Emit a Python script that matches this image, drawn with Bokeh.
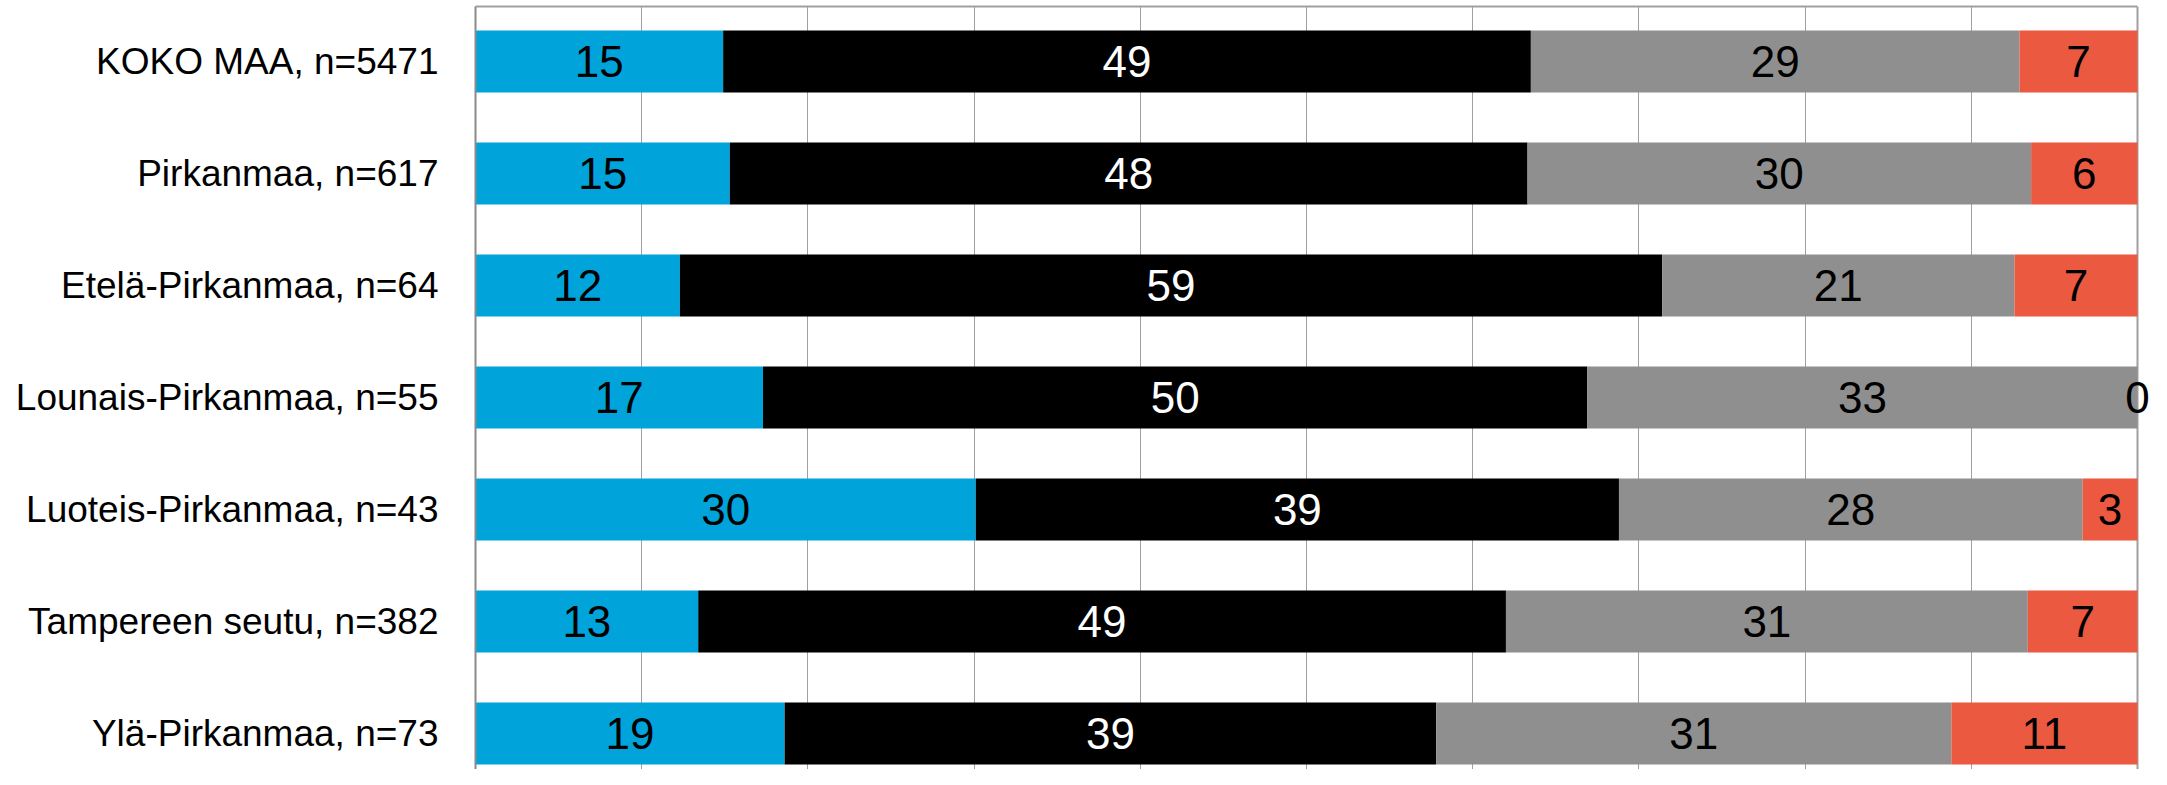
import numpy as np
from bokeh.plotting import figure
from bokeh.models import ColumnDataSource, Range1d, FixedTicker, LabelSet, Grid
from bokeh.core.properties import value
from bokeh.embed import file_html
from bokeh.resources import INLINE

# ---- data (percent shares, 100 % stacked) ----
categories = [
    "KOKO MAA, n=5471",
    "Pirkanmaa, n=617",
    "Etelä-Pirkanmaa, n=64",
    "Lounais-Pirkanmaa, n=55",
    "Luoteis-Pirkanmaa, n=43",
    "Tampereen seutu, n=382",
    "Ylä-Pirkanmaa, n=73",
]
series_1 = [14.9, 15.3, 12.3, 17.3, 30.1, 13.4, 18.6]
series_2 = [48.6, 48.0, 59.1, 49.6, 38.7, 48.6, 39.2]
series_3 = [29.4, 30.3, 21.2, 33.1, 27.9, 31.4, 31.0]
series_4 = [7.1, 6.4, 7.4, 0.0, 3.3, 6.6, 11.2]
x_ticks = [0, 10, 20, 30, 40, 50, 60, 70, 80, 90]
x_max = 100

# ---- styles ----
series_colors = ["#00A4DB", "#000000", "#8F8F8F", "#EA5940"]
label_colors = ["#000000", "#FFFFFF", "#000000", "#000000"]
FONT = "Liberation Sans"
BORDER = "#A0A0A0"

PITCH = 112.0          # px per category row
FIG_H = 769
BORDER_TOP = 6
FRAME_H = FIG_H - BORDER_TOP
TOP_OFFSET = 55.0      # px from frame top to first row centre
y_top = -TOP_OFFSET / PITCH
y_bottom = y_top + FRAME_H / PITCH

PLOT_W = 1662          # px for 0..100 %
EXTRA_W = 20           # room right of 100 % for end labels
x_end = x_max * (PLOT_W + EXTRA_W) / PLOT_W

p = figure(
    width=475 + PLOT_W + EXTRA_W, height=FIG_H,
    x_range=Range1d(0, x_end),
    y_range=Range1d(y_bottom, y_top),
    x_axis_location="above",
    output_backend="svg", toolbar_location=None,
    min_border_left=475, min_border_right=0,
    min_border_top=BORDER_TOP, min_border_bottom=0,
)
p.background_fill_color = "white"
p.border_fill_color = "white"
p.outline_line_color = None

# top border = axis line limited to 0..100
p.xaxis.ticker = FixedTicker(ticks=[])
p.xaxis.bounds = (0, x_max)
p.xaxis.axis_line_color = BORDER
p.xaxis.axis_line_width = 2
p.xaxis.major_tick_line_color = None
p.xaxis.minor_tick_line_color = None
p.xaxis.major_label_text_font_size = "0px"
p.xaxis.major_tick_out = 0
p.xaxis.major_label_standoff = 0

# vertical gridlines
for g in p.xgrid:
    g.visible = False
p.add_layout(Grid(dimension=0, ticker=FixedTicker(ticks=x_ticks),
                  grid_line_color=BORDER, grid_line_width=1))
p.add_layout(Grid(dimension=0, ticker=FixedTicker(ticks=[x_max]),
                  grid_line_color=BORDER, grid_line_width=2))
p.ygrid.grid_line_color = None

# y axis
rows = list(range(len(categories)))
p.yaxis.ticker = FixedTicker(ticks=rows)
p.yaxis.major_label_overrides = {i: c for i, c in zip(rows, categories)}
p.yaxis.axis_line_color = "#8A8A8A"
p.yaxis.axis_line_width = 2
p.yaxis.major_tick_line_color = None
p.yaxis.minor_tick_line_color = None
p.yaxis.major_tick_out = 0
p.yaxis.major_tick_in = 0
p.yaxis.major_label_standoff = 37
p.yaxis.major_label_text_font = FONT
p.yaxis.major_label_text_font_size = "37px"
p.yaxis.major_label_text_color = "#000000"

# stacked bars
all_series = [series_1, series_2, series_3, series_4]
left = np.zeros(len(categories))
lab_x, lab_y, lab_t, lab_c = [], [], [], []
for vals, col, tcol in zip(all_series, series_colors, label_colors):
    v = np.array(vals, dtype=float)
    right = left + v
    src = ColumnDataSource(dict(y=rows, left=left.copy(), right=right.copy()))
    p.hbar(y="y", left="left", right="right", height=0.554, source=src,
           fill_color=col, line_color=None)
    for i in rows:
        lab_x.append(left[i] + v[i] / 2.0)
        lab_y.append(i)
        lab_t.append(str(int(v[i] + 0.5)))
        lab_c.append(tcol)
    left = right

lab_src = ColumnDataSource(dict(x=lab_x, y=lab_y, t=lab_t, c=lab_c))
labels = LabelSet(x="x", y="y", text="t", source=lab_src,
                  text_color="c", text_align="center", text_baseline="middle",
                  text_font=value(FONT), text_font_size="44px")
p.add_layout(labels)

open("out.html", "w").write(file_html(p, INLINE))
